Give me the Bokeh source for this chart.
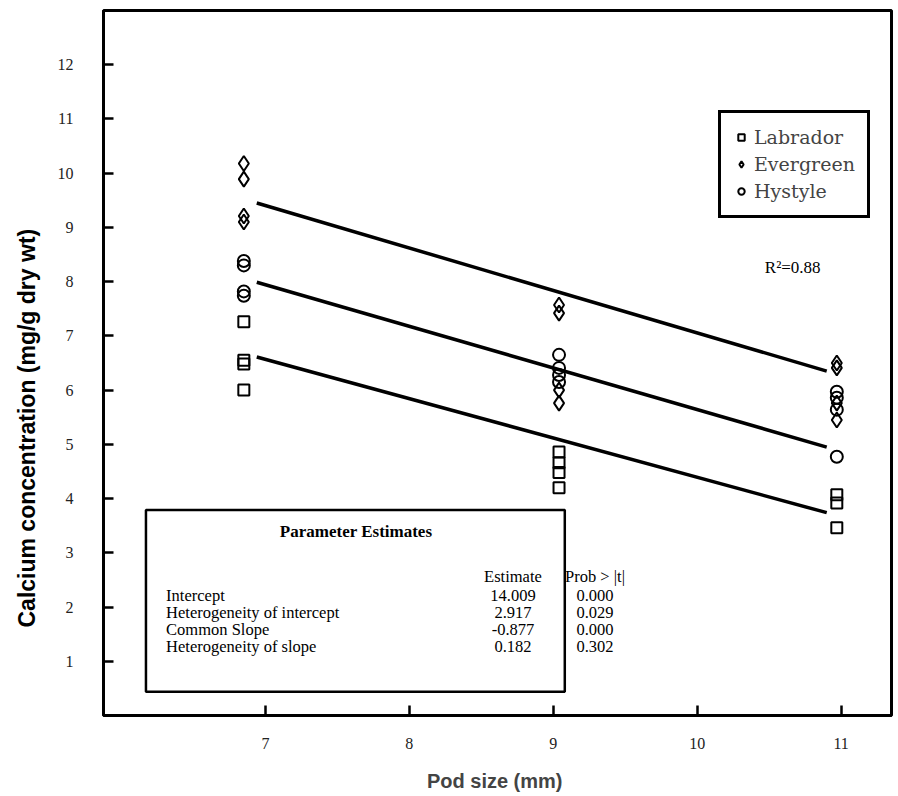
import math
from bokeh.plotting import figure
from bokeh.models import (Range1d, FixedTicker, Legend, LegendItem, Label, Title,
                          BoxAnnotation, ColumnDataSource)
from bokeh.core.properties import value
from bokeh.embed import file_html
from bokeh.resources import INLINE

# ---------------- data ----------------
x_ticks = [7, 8, 9, 10, 11]
y_ticks = [1, 2, 3, 4, 5, 6, 7, 8, 9, 10, 11, 12]

lab_x = [6.85, 6.85, 6.85, 6.85, 9.04, 9.04, 9.04, 9.04, 10.97, 10.97, 10.97]
lab_y = [7.26, 6.55, 6.48, 6.00, 4.86, 4.66, 4.48, 4.20, 4.07, 3.92, 3.46]

eve_x = [6.85, 6.85, 6.85, 6.85, 9.04, 9.04, 9.04, 9.04, 10.97, 10.97, 10.97, 10.97]
eve_y = [10.18, 9.89, 9.21, 9.10, 7.57, 7.42, 6.00, 5.76, 6.50, 6.41, 5.76, 5.45]

hys_x = [6.85, 6.85, 6.85, 6.85, 9.04, 9.04, 9.04, 9.04, 10.97, 10.97, 10.97, 10.97]
hys_y = [8.38, 8.30, 7.82, 7.74, 6.65, 6.41, 6.28, 6.15, 5.97, 5.86, 5.64, 4.77]

fit_x = [6.94, 10.90]
lab_fit = [6.61, 3.74]
eve_fit = [9.45, 6.35]
hys_fit = [7.99, 4.95]

series_names = ["Labrador", "Evergreen", "Hystyle"]

param_title = "Parameter Estimates"
param_headers = ["Estimate", "Prob > |t|"]
param_names = ["Intercept", "Heterogeneity of intercept", "Common Slope",
               "Heterogeneity of slope"]
param_est = ["14.009", "2.917", "-0.877", "0.182"]
param_prob = ["0.000", "0.029", "0.000", "0.302"]
r2_text = "R\u00b2=0.88"

# ---------------- figure ----------------
p = figure(width=896, height=796, x_range=Range1d(5.875, 11.35), y_range=Range1d(0, 13),
           output_backend="svg", toolbar_location=None,
           min_border_left=103, min_border_right=5, min_border_top=10, min_border_bottom=81)
p.grid.visible = False
p.outline_line_color = "black"
p.outline_line_width = 3
p.outline_line_alpha = 1
p.background_fill_color = "white"
p.border_fill_color = "white"

serif = "Liberation Serif"
sans = "Liberation Sans"

for ax in (p.xaxis[0], p.yaxis[0]):
    ax.axis_line_width = 3
    ax.axis_line_color = "black"
    ax.major_tick_in = 10
    ax.major_tick_out = 0
    ax.major_tick_line_width = 2.5
    ax.major_tick_line_color = "black"
    ax.minor_tick_line_color = None
    ax.major_label_text_font = serif
    ax.major_label_text_font_size = "16px"
    ax.major_label_text_color = "#222222"

p.xaxis.ticker = FixedTicker(ticks=x_ticks)
p.yaxis.ticker = FixedTicker(ticks=y_ticks)
p.xaxis.major_label_standoff = 22
p.yaxis.major_label_standoff = 30
p.xaxis.axis_label = "Pod size  (mm)"
p.xaxis.axis_label_text_font = sans
p.xaxis.axis_label_text_font_style = "bold"
p.xaxis.axis_label_text_font_size = "20px"
p.xaxis.axis_label_standoff = 18

# y-axis title, placed as a side title so it can sit off-centre like the reference
ytitle = Title(text="Calcium  concentration  (mg/g dry wt)", align="left", offset=88,
               vertical_align="top", text_font=sans, text_font_style="bold",
               text_font_size="23px", text_color="black", standoff=26)
p.add_layout(ytitle, "left")

# regression lines
for fy in (eve_fit, hys_fit, lab_fit):
    p.line(fit_x, fy, line_color="black", line_width=3.5)

# points
r_lab = p.scatter(lab_x, lab_y, marker="square", size=11, fill_color=None,
                  line_color="black", line_width=2)
r_eve = p.scatter(eve_x, eve_y, marker="diamond", size=15,
                  fill_color=None, line_color="black", line_width=2)
r_hys = p.scatter(hys_x, hys_y, marker="circle", size=12, fill_color=None,
                  line_color="black", line_width=2)

legend = Legend(items=[LegendItem(label=series_names[0], renderers=[r_lab]),
                       LegendItem(label=series_names[1], renderers=[r_eve]),
                       LegendItem(label=series_names[2], renderers=[r_hys])],
                location=(615, 497))
legend.border_line_color = "black"
legend.border_line_width = 3
legend.border_line_alpha = 1
legend.background_fill_color = "white"
legend.background_fill_alpha = 1
legend.padding = 12
legend.spacing = 3
legend.margin = 0
legend.label_height = 24
legend.glyph_height = 24
legend.glyph_width = 16
legend.label_standoff = 5
legend.label_text_font = "DejaVu Serif"
legend.label_text_font_size = "19px"
p.add_layout(legend, "center")

# R^2
p.add_layout(Label(x=10.47, y=8.27, text=r2_text, text_align="left", text_baseline="middle",
                   text_font=serif, text_font_size="17px", text_color="black"))

# parameter table
p.add_layout(BoxAnnotation(left=6.17, right=9.08, top=3.79, bottom=0.44,
                           fill_color="white", fill_alpha=1, line_color="black",
                           line_alpha=1, line_width=2.5, level="underlay"))

row_top = 2.21
row_step = 0.313
rows_y = [row_top - i * row_step for i in range(len(param_names))]
src = ColumnDataSource(dict(y=rows_y, name=param_names, est=param_est, prob=param_prob))
common = dict(text_font=value(serif), text_font_size="16.5px", text_color="black",
              text_baseline="middle")
p.text(x=6.31, y="y", text="name", source=src, text_align="left", **common)
p.text(x=8.72, y="y", text="est", source=src, text_align="center", **common)
p.text(x=9.29, y="y", text="prob", source=src, text_align="center", **common)
p.text(x=[8.72, 9.29], y=[2.56, 2.56], text=param_headers, text_align="center", **common)
p.text(x=[7.63], y=[3.39], text=[param_title], text_align="center",
       text_font=value(serif), text_font_size="17px", text_font_style="bold",
       text_color="black", text_baseline="middle")

open("out.html", "w").write(file_html(p, INLINE))
